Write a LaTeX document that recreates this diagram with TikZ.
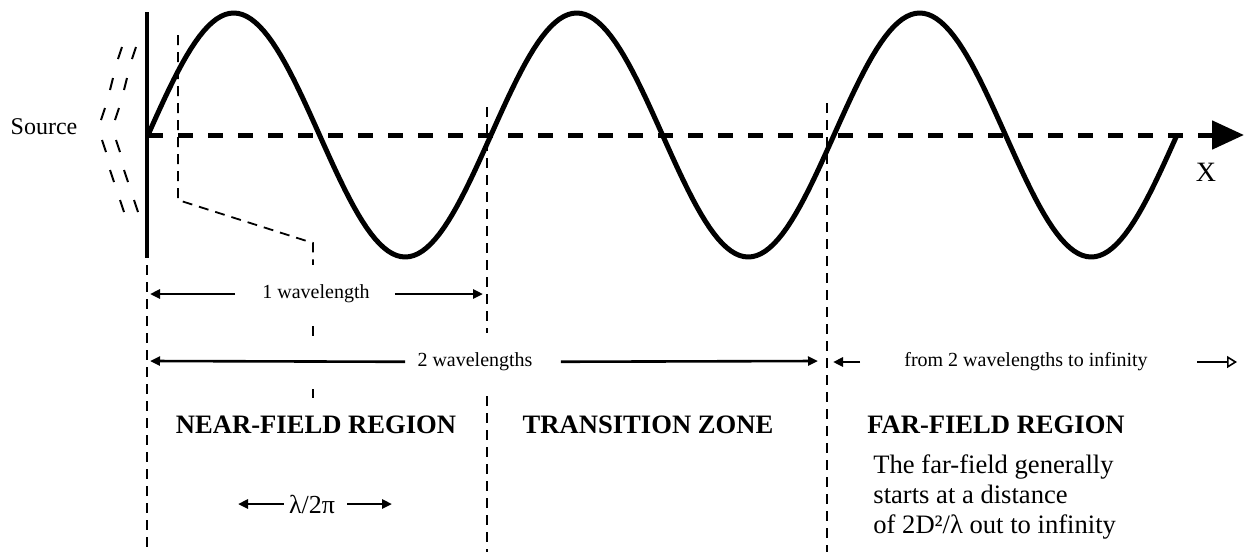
\documentclass[tikz,border=0pt]{standalone}
\usepackage{fontspec}
\setmainfont{Liberation Serif}
\usetikzlibrary{arrows.meta, positioning}

\begin{document}
\begin{tikzpicture}[
    x=0.5pt, y=-0.5pt,
    wave/.style={line width=2.5pt, line cap=round, line join=round},
    axisline/.style={line width=2.5pt, dash pattern=on 7.5pt off 7.5pt, -{Triangle[length=16pt, width=14pt]}},
    guide/.style={line width=0.9pt, dash pattern=on 5pt off 3.5pt},
    srcmark/.style={line width=1pt},
    dimarrow/.style={line width=1.3pt, -{Triangle[length=5pt, width=4.5pt]}},
    openarrow/.style={line width=1.3pt, -{Triangle[open, length=5pt, width=6pt, line width=0.8pt]}},
    dimtext/.style={font=\fontsize{10}{12}\selectfont, fill=white, inner xsep=0pt, inner ysep=10pt},
    regiontitle/.style={font=\fontsize{13.3}{16}\selectfont\bfseries, inner sep=0pt},
    farnote/.style={font=\fontsize{13.3}{15}\selectfont, align=left, inner sep=0pt}
]
    \useasboundingbox (0,0) rectangle (1248,552);

    % propagation axis and wave
    \draw[axisline] (148,135) -- (1244,135);
    \draw[wave] plot[domain=0:1, samples=241] ({148+1029*\x}, {135-122*sin(1080*\x)});
    \draw[line width=2pt] (147,12) -- (147,258);

    % source marks
    \foreach \xa/\ya/\dx in {122/47/-4, 113/78/-3, 105/108/-4, 102/140/4, 110/170/4, 120/200/4} {
        \draw[srcmark] (\xa,\ya) -- ++(\dx,12);
        \draw[srcmark] (\xa+14,\ya) -- ++(\dx,12);
    }

    % guide lines
    \draw[guide] (178,35) -- (178,200) -- (313,243) -- (313,268);
    \draw[line width=0.9pt] (313,326) -- (313,336);
    \draw[line width=0.9pt] (313,389) -- (313,398);
    \draw[guide] (147,265) -- (147,552);
    \draw[guide] (487,107) -- (487,552);
    \draw[guide] (827,103) -- (827,552);

    % labels
    \node[font=\fontsize{12}{14}\selectfont] (source) at (44,127) {Source};
    \node[font=\fontsize{14}{16}\selectfont] (xlabel) at (1206,172) {X};
    \node[dimtext] (wl1) at (316,294) {1 wavelength};
    \node[dimtext] (wl2) at (475,362) {2 wavelengths};
    \node[dimtext] (farrange) at (1026,362) {from 2 wavelengths to infinity};
    \node[regiontitle] (near) at (316,425) {NEAR-FIELD REGION};
    \node[regiontitle] (trans) at (648,425) {TRANSITION ZONE};
    \node[regiontitle] (far) at (996,425) {FAR-FIELD REGION};
    \node[farnote, anchor=north west] (note) at (873,454) {The far-field generally\\starts at a distance\\of 2D²/λ out to infinity};
    \node[font=\fontsize{13}{15}\selectfont, inner sep=0pt] (lam) at (312,504) {λ/2π};

    % arrow ends
    \coordinate (w1L) at (150,294);
    \coordinate (w1R) at (483,294);
    \coordinate (w2L) at (150,361);
    \coordinate (w2R) at (818,361);
    \coordinate (lamL) at (238,504);
    \coordinate (lamR) at (392,504);
    \coordinate (farA) at (860,362);
    \coordinate (farB) at (833,362);
    \coordinate (farC) at (1197,362);
    \coordinate (farD) at (1237,362);

    \draw[dimarrow, shorten <=13.5pt] (wl1) -- (w1L);
    \draw[dimarrow, shorten <=12.5pt] (wl1) -- (w1R);
    \draw[dimarrow, shorten <=6pt] (wl2) -- (w2L);
    \draw[dimarrow, shorten <=14pt] (wl2) -- (w2R);
    \draw[dimarrow, shorten <=2.5pt] (lam) -- (lamL);
    \draw[dimarrow, shorten <=6pt] (lam) -- (lamR);
    \draw[dimarrow] (farA) -- (farB);
    \draw[openarrow] (farC) -- (farD);

\end{tikzpicture}
\end{document}
